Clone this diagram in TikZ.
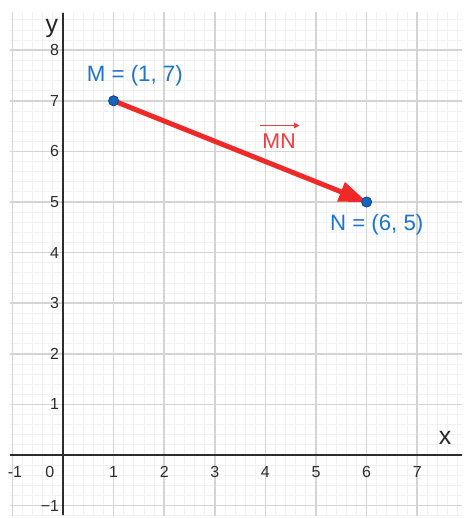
\documentclass[tikz,border=0pt]{standalone}
\usepackage{fontspec}
\setmainfont{Liberation Sans}
\usetikzlibrary{arrows.meta}
\definecolor{ptblue}{RGB}{21,101,192}
\definecolor{lblblue}{RGB}{30,115,205}
\definecolor{vecred}{RGB}{240,40,40}
\definecolor{axisgray}{RGB}{45,45,45}
\definecolor{majorgrid}{RGB}{212,212,212}
\definecolor{minorgrid}{RGB}{241,241,241}
\tikzset{
  ticklbl/.style={font=\fontsize{9}{10}\selectfont, text=axisgray, inner sep=0pt},
  axislbl/.style={font=\fontsize{14}{15}\selectfont, text=black!85, inner sep=0pt},
  ptlbl/.style={font=\fontsize{12.5}{14}\selectfont, text=lblblue, inner sep=0pt},
  ptdot/.style={circle, fill=ptblue, draw=ptblue!70!black, line width=0.4pt, minimum size=5.6pt, inner sep=0pt},
  vec/.style={draw=vecred, line width=2.8pt, -{Triangle[length=16pt,width=11pt]}, shorten >=-0.5pt},
}
\begin{document}
\begin{tikzpicture}[x=1cm,y=1cm]
\useasboundingbox (-1.245,-1.245) rectangle (7.984,8.992);
\fill[white] (-1.245,-1.245) rectangle (7.984,8.992);
\begin{scope}
\clip (-1.05,-1.19) rectangle (7.89,8.74);
\foreach \k in {-6,...,40} {
  \draw[minorgrid, line width=0.45pt] (\k*0.2,-1.4) -- (\k*0.2,9);
}
\foreach \k in {-7,...,45} {
  \draw[minorgrid, line width=0.45pt] (-1.2,\k*0.2) -- (8,\k*0.2);
}
\foreach \k in {-1,...,7} {
  \draw[majorgrid, line width=0.9pt] (\k,-1.4) -- (\k,9);
}
\foreach \k in {-1,...,8} {
  \draw[majorgrid, line width=0.9pt] (-1.2,\k) -- (8,\k);
}
\end{scope}
% axes
\coordinate (xl) at (-1.05,0);
\coordinate (xr) at (7.89,0);
\coordinate (yb) at (0,-1.19);
\coordinate (yt) at (0,8.74);
\draw[axisgray, line width=1.2pt] (xl) -- (xr);
\draw[axisgray, line width=1.2pt] (yb) -- (yt);
% axis labels
\node[axislbl] (xlab) at (7.55,0.33) {x};
\node[axislbl] (ylab) at (-0.22,8.42) {y};
% x tick labels
\foreach \i in {1,...,7} {
  \node[ticklbl] (xt\i) at (\i,-0.34) {\i};
}
\node[ticklbl] (xtm) at (-0.95,-0.34) {-1};
\node[ticklbl] (xt0) at (-0.26,-0.34) {0};
% y tick labels
\foreach \i in {1,...,8} {
  \node[ticklbl, anchor=east] (yt\i) at (-0.07,\i) {\i};
}
\node[ticklbl, anchor=east] (ytm) at (-0.07,-1) {\textminus1};
% points
\node[ptdot] (M) at (1,7) {};
\node[ptdot] (N) at (6,5) {};
\draw[vec] (M.center) -- (N.center);
\node[ptdot] at (N) {};
\node[ptdot] at (M) {};
% labels
\node[ptlbl] (Ml) at (1.42,7.5) {M = (1, 7)};
\node[ptlbl] (Nl) at (6.2,4.55) {N = (6, 5)};
\node[font=\fontsize{12}{14}\selectfont, text=vecred!90, inner sep=0pt] (MN) at (4.27,6.2) {MN};
\draw[vecred!90, line width=0.7pt, -{Triangle[length=3pt,width=3pt]}] ([xshift=-1pt,yshift=4.5pt]MN.north west) -- ([xshift=2pt,yshift=4.5pt]MN.north east);
\end{tikzpicture}
\end{document}
